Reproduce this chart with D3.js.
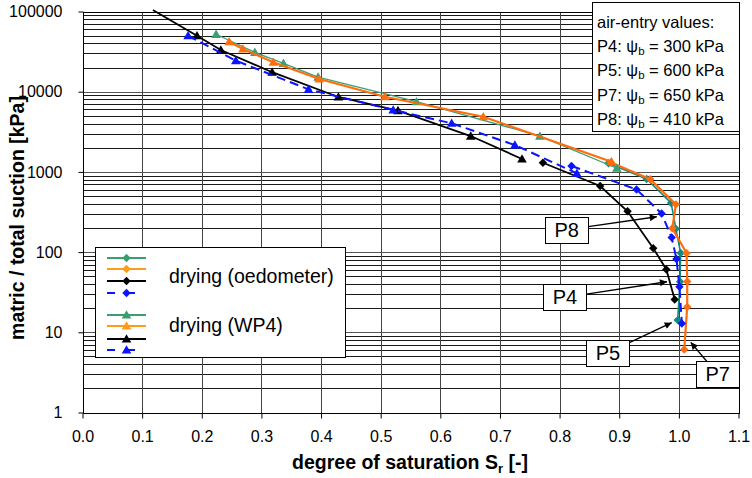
<!DOCTYPE html>
<html>
<head>
<meta charset="utf-8">
<script src="https://cdn.jsdelivr.net/npm/d3@7"></script>
<style>
  body { margin: 0; background: #fff; }
  svg { display: block; }
  text { font-family: "Liberation Sans", Arial, sans-serif; fill: #000; }
</style>
</head>
<body>
<div id="chart"></div>
<script>
// axis ticks
const xTicks = [0, 0.1, 0.2, 0.3, 0.4, 0.5, 0.6, 0.7, 0.8, 0.9, 1.0, 1.1];
const yTicks = [1, 10, 100, 1000, 10000, 100000];

// drying (oedometer) - degree of saturation / suction [kPa]
const oedP5Sr = [0.882, 0.946, 0.987, 0.995, 1.003, 1.002, 0.998];
const oedP5S  = [1280, 815, 410, 195, 97.5, 42.7, 14.2];
const oedP7Sr = [0.886, 0.952, 0.995, 0.989, 1.013, 1.014, 1.014, 1.009];
const oedP7S  = [1310, 809, 394, 198, 96.6, 43, 20.7, 6.1];
const oedP4Sr = [0.772, 0.868, 0.914, 0.957, 0.979, 0.993];
const oedP4S  = [1300, 667, 323, 112, 60.7, 25.6];
const oedP8Sr = [0.820, 0.929, 0.971, 0.988, 0.996, 1.001, 1.005];
const oedP8S  = [1185, 603, 303, 152, 82, 37, 12.9];

// drying (WP4)
const wpP5Sr = [0.224, 0.289, 0.337, 0.395, 0.560, 0.767, 0.896];
const wpP5S  = [52000, 31000, 22600, 15200, 7500, 2800, 1110];
const wpP7Sr = [0.246, 0.269, 0.320, 0.397, 0.507, 0.672, 0.887];
const wpP7S  = [42000, 34100, 23300, 14400, 8660, 4880, 1340];
const wpP4Sr = [0.118, 0.192, 0.232, 0.318, 0.429, 0.529, 0.651, 0.737];
const wpP4S  = [104500, 49900, 33100, 17500, 8590, 5800, 2800, 1450];
const wpP8Sr = [0.177, 0.257, 0.379, 0.521, 0.619, 0.725, 0.829];
const wpP8S  = [49900, 24400, 10700, 5910, 4040, 2160, 960];

// air-entry text box
const airEntryNames = ["P4", "P5", "P7", "P8"];
const airEntryValues = [300, 600, 650, 410];

// specimen labels: label centre and arrow tip (Sr, suction)
const labelNames = ["P8", "P4", "P5", "P7"];
const labelSr    = [0.812, 0.809, 0.881, 1.065];
const labelS     = [190, 27.2, 5.57, 3.0];
const tipSr      = [0.963, 0.980, 0.988, 1.020];
const tipS       = [276, 42.7, 13.2, 7.5];

const W = 752, H = 478;
const svg = d3.select("#chart").append("svg").attr("width", W).attr("height", H);
svg.append("rect").attr("width", W).attr("height", H).attr("fill", "#fff");

const x = d3.scaleLinear().domain([0, 1.1]).range([82.5, 738.5]);
const y = d3.scaleLog().domain([1, 1e5]).range([412.5, 11.5]);
const px = v => Math.round(v) + 0.5;

// grid
const minor = [];
yTicks.slice(0, -1).forEach(d => { for (let k = 2; k <= 9; k++) minor.push(k * d); });
const grid = svg.append("g").attr("shape-rendering", "crispEdges");
grid.selectAll(".hm").data(minor).enter().append("line")
  .attr("x1", x(0)).attr("x2", x(1.1))
  .attr("y1", d => px(y(d))).attr("y2", d => px(y(d)))
  .attr("stroke", "#1a1a1a").attr("stroke-width", 1);
grid.selectAll(".hM").data(yTicks).enter().append("line")
  .attr("x1", x(0)).attr("x2", x(1.1))
  .attr("y1", d => px(y(d))).attr("y2", d => px(y(d)))
  .attr("stroke", "#555").attr("stroke-width", 1.3);
grid.selectAll(".v").data(xTicks).enter().append("line")
  .attr("y1", y(1e5)).attr("y2", y(1))
  .attr("x1", d => px(x(d))).attr("x2", d => px(x(d)))
  .attr("stroke", "#444").attr("stroke-width", 1.2);
grid.append("rect")
  .attr("x", px(x(0))).attr("y", px(y(1e5)))
  .attr("width", Math.round(x(1.1) - x(0))).attr("height", Math.round(y(1) - y(1e5)))
  .attr("fill", "none").attr("stroke", "#000").attr("stroke-width", 1.3);

// axes
const xAxis = svg.append("g").attr("transform", `translate(0,${px(y(1))})`)
  .call(d3.axisBottom(x).tickValues(xTicks).tickFormat(d3.format(".1f")).tickSize(5).tickPadding(12));
const yAxis = svg.append("g").attr("transform", `translate(${px(x(0))},0)`)
  .call(d3.axisLeft(y).tickValues(yTicks).tickFormat(d3.format("d")).tickSize(5).tickPadding(16));
[xAxis, yAxis].forEach(a => {
  a.select(".domain").remove();
  a.selectAll("line").attr("stroke", "#000");
  a.selectAll("text").attr("font-size", 16).attr("font-family", '"Liberation Sans", Arial, sans-serif');
});

// axis titles
const xt = svg.append("text").attr("x", 410).attr("y", 469)
  .attr("text-anchor", "middle").attr("font-size", 19.5).attr("font-weight", "bold");
xt.append("tspan").text("degree of saturation S");
xt.append("tspan").attr("dy", 4).attr("font-size", 13).text("r");
xt.append("tspan").attr("dy", -4).text(" [-]");
svg.append("text").attr("transform", "translate(24,218) rotate(-90)")
  .attr("text-anchor", "middle").attr("font-size", 19.5).attr("font-weight", "bold")
  .text("matric / total suction [kPa]");

// series
const diamond = "M0,-4.2L4.2,0L0,4.2L-4.2,0Z";
const triangle = "M0,-4.8L4.8,3.6L-4.8,3.6Z";
const series = [
  { sr: oedP5Sr, s: oedP5S, color: "#15897f", legend: "#3a9e6e", w: 1.6, dash: null, m: diamond },
  { sr: oedP7Sr, s: oedP7S, color: "#ff6d0c", legend: "#ff9a1a", w: 2.2, dash: null, m: diamond },
  { sr: oedP4Sr, s: oedP4S, color: "#000", legend: "#000", w: 1.8, dash: null, m: diamond },
  { sr: oedP8Sr, s: oedP8S, color: "#0a14ff", legend: "#0a14ff", w: 2, dash: "9,5", m: diamond },
  { sr: wpP5Sr, s: wpP5S, color: "#3c9f73", legend: "#3a9e6e", w: 1.3, dash: null, m: triangle },
  { sr: wpP7Sr, s: wpP7S, color: "#ff6d0c", legend: "#ff9a1a", w: 2.2, dash: null, m: triangle },
  { sr: wpP4Sr, s: wpP4S, color: "#000", legend: "#000", w: 1.8, dash: null, m: triangle },
  { sr: wpP8Sr, s: wpP8S, color: "#0a14ff", legend: "#0a14ff", w: 2, dash: "9,5", m: triangle }
];
const line = d3.line().x(d => x(d[0])).y(d => y(d[1]));
series.forEach(se => {
  const pts = se.sr.map((v, i) => [v, se.s[i]]);
  svg.append("path").datum(pts).attr("d", line)
    .attr("fill", "none").attr("stroke", se.color).attr("stroke-width", se.w)
    .attr("stroke-dasharray", se.dash);
  svg.selectAll(null).data(pts.filter(p => p[1] <= 1e5)).enter().append("path")
    .attr("d", se.m).attr("transform", p => `translate(${x(p[0])},${y(p[1])})`)
    .attr("fill", se.color);
});

// legend
const lg = svg.append("g").attr("transform", "translate(95,247)");
lg.append("rect").attr("x", 0.5).attr("y", 0.5).attr("width", 250).attr("height", 110)
  .attr("fill", "#fff").attr("stroke", "#000").attr("stroke-width", 1);
const rowY = [11, 22, 34, 46, 68, 79, 92, 103];
series.forEach((se, i) => {
  lg.append("line").attr("x1", 12).attr("x2", 51).attr("y1", rowY[i]).attr("y2", rowY[i])
    .attr("stroke", se.legend).attr("stroke-width", 2.2).attr("stroke-dasharray", se.dash ? "8,12" : null);
  lg.append("path").attr("d", se.m).attr("transform", `translate(31.5,${rowY[i]})`).attr("fill", se.legend);
});
lg.append("text").attr("x", 74).attr("y", 36).attr("font-size", 19.5).text("drying (oedometer)");
lg.append("text").attr("x", 74).attr("y", 85).attr("font-size", 19.5).text("drying (WP4)");

// air-entry box
const ab = svg.append("g").attr("transform", "translate(592,2)");
ab.append("rect").attr("x", 0.5).attr("y", 0.5).attr("width", 147).attr("height", 129)
  .attr("fill", "#fff").attr("stroke", "#000").attr("stroke-width", 1);
ab.append("text").attr("x", 5).attr("y", 26).attr("font-size", 16.5).text("air-entry values:");
airEntryNames.forEach((n, i) => {
  const t = ab.append("text").attr("x", 5).attr("y", 50 + i * 24.3).attr("font-size", 16.5);
  t.append("tspan").text(`${n}: \u03c8`);
  t.append("tspan").attr("dy", 3).attr("font-size", 11.5).text("b");
  t.append("tspan").attr("dy", -3).text(` = ${airEntryValues[i]} kPa`);
});

// specimen labels with arrows
svg.append("defs").append("marker").attr("id", "ah")
  .attr("viewBox", "0 0 10 10").attr("refX", 10).attr("refY", 5)
  .attr("markerWidth", 10).attr("markerHeight", 7).attr("markerUnits", "userSpaceOnUse")
  .attr("orient", "auto")
  .append("path").attr("d", "M0,0L10,5L0,10Z").attr("fill", "#000");
const bw = 43, bh = 26;
labelNames.forEach((n, i) => {
  const cx = x(labelSr[i]), cy = y(labelS[i]);
  const tx = x(tipSr[i]), ty = y(tipS[i]);
  const dx = tx - cx, dy = ty - cy;
  const t = Math.min(Math.abs(bw / 2 / dx), Math.abs(bh / 2 / dy));
  svg.append("line").attr("x1", cx + dx * t).attr("y1", cy + dy * t)
    .attr("x2", tx).attr("y2", ty)
    .attr("stroke", "#000").attr("stroke-width", 1.3).attr("marker-end", "url(#ah)");
  svg.append("rect").attr("x", Math.round(cx - bw / 2) + 0.5).attr("y", Math.round(cy - bh / 2) + 0.5)
    .attr("width", bw).attr("height", bh).attr("fill", "#fff").attr("stroke", "#000");
  svg.append("text").attr("x", cx).attr("y", cy + 7).attr("text-anchor", "middle")
    .attr("font-size", 20).text(n);
});
</script>
</body>
</html>
